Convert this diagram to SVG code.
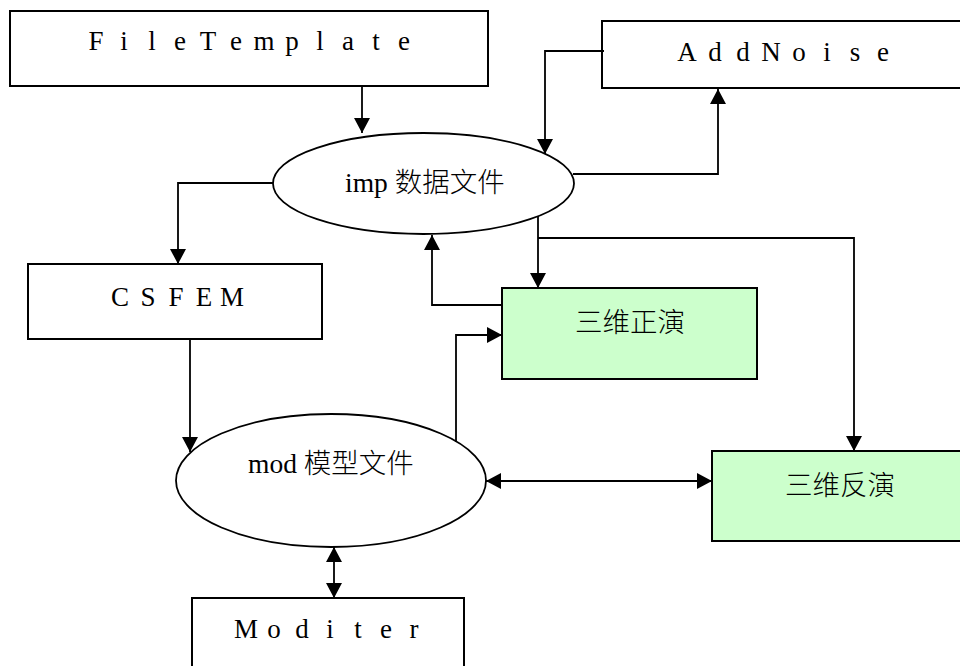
<svg xmlns="http://www.w3.org/2000/svg" width="960" height="666" viewBox="0 0 960 666">
<style>
  .box{fill:#ffffff;stroke:#000;stroke-width:2}
  .green{fill:#ccffcc;stroke:#000;stroke-width:2}
  .ell{fill:#ffffff;stroke:#000;stroke-width:1.8}
  .lbl{font-family:"Liberation Serif","Noto Sans CJK SC",serif;font-size:27px;fill:#000;text-anchor:middle}
  .cjk{font-family:"Liberation Serif","Noto Sans CJK SC",serif;font-size:27.5px;fill:#000;font-weight:300}
  .con{fill:none;stroke:#000;stroke-width:1.8}
</style>
<defs>
  <marker id="ah" markerUnits="userSpaceOnUse" markerWidth="16" markerHeight="17" refX="15" refY="8" orient="auto-start-reverse">
    <path d="M0,0 L15,8 L0,16 z" fill="#000"/>
  </marker>
</defs>
<rect width="960" height="666" fill="#ffffff"/>

<g id="filetemplate">
  <rect class="box" x="10" y="11" width="478" height="75"/>
  <text class="lbl" x="96 124 152 180 208 236 264 292 320 348 376 404" y="50">FileTemplate</text>
</g>
<g id="addnoise">
  <rect class="box" x="602" y="21" width="362" height="67"/>
  <text class="lbl" x="687 715 743 771 799 827 855 883" y="61">AddNoise</text>
</g>
<g id="imp">
  <ellipse class="ell" cx="423.5" cy="183.5" rx="150.5" ry="50.5"/>
  <text class="cjk" x="345" y="192">imp 数据文件</text>
</g>
<g id="csfem">
  <rect class="box" x="28" y="264" width="294" height="75"/>
  <text class="lbl" x="120 148 176 204 232" y="306">CSFEM</text>
</g>
<g id="forward">
  <rect class="green" x="502" y="288" width="255" height="91"/>
  <text class="cjk" x="630" y="332" text-anchor="middle">三维正演</text>
</g>
<g id="mod">
  <ellipse class="ell" cx="331" cy="480.5" rx="155" ry="66.5"/>
  <text class="cjk" x="248" y="473">mod 模型文件</text>
</g>
<g id="inverse">
  <rect class="green" x="712" y="451" width="256" height="90"/>
  <text class="cjk" x="840" y="495" text-anchor="middle">三维反演</text>
</g>
<g id="moditer">
  <rect class="box" x="192" y="598" width="272" height="80"/>
  <text class="lbl" x="246 274 302 330 358 386 414" y="638">Moditer</text>
</g>

<g id="connectors">
  <path class="con" d="M362,86 L362,133" marker-end="url(#ah)"/>
  <path class="con" d="M604,51 L545,51 L545,154" marker-end="url(#ah)"/>
  <path class="con" d="M573,174 L718,174 L718,89" marker-end="url(#ah)"/>
  <path class="con" d="M273,183 L178,183 L178,264" marker-end="url(#ah)"/>
  <path class="con" d="M190,340 L190,452" marker-end="url(#ah)"/>
  <path class="con" d="M538,216 L538,288" marker-end="url(#ah)"/>
  <path class="con" d="M538,238 L854,238 L854,451" marker-end="url(#ah)"/>
  <path class="con" d="M502,305 L432,305 L432,235" marker-end="url(#ah)"/>
  <path class="con" d="M456,442 L456,335 L502,335" marker-end="url(#ah)"/>
  <path class="con" d="M486,481 L712,481" marker-start="url(#ah)" marker-end="url(#ah)"/>
  <path class="con" d="M334,547 L334,598" marker-start="url(#ah)" marker-end="url(#ah)"/>
</g>
</svg>
